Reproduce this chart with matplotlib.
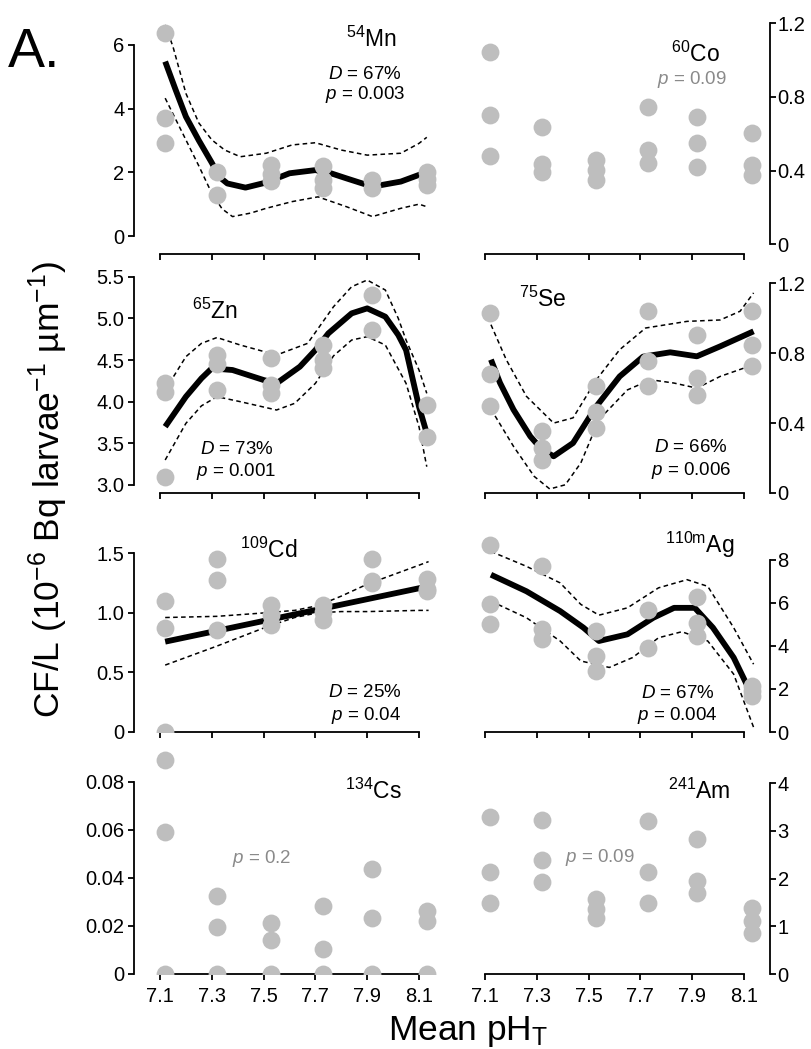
import matplotlib
matplotlib.use("Agg")
import matplotlib.pyplot as plt

plt.rcParams['font.family'] = ['Liberation Sans', 'DejaVu Sans']
plt.rcParams['mathtext.fontset'] = 'custom'
plt.rcParams['mathtext.rm'] = 'Liberation Sans'
plt.rcParams['mathtext.it'] = 'Liberation Sans:italic'
plt.rcParams['mathtext.bf'] = 'Liberation Sans:bold'

# ---------------- data ----------------
ph_groups = [7.12, 7.32, 7.53, 7.73, 7.92, 8.13]
x_ticks = [7.1, 7.3, 7.5, 7.7, 7.9, 8.1]
x_tick_labels = ['7.1', '7.3', '7.5', '7.7', '7.9', '8.1']

# 54Mn
mn_pts = [[6.37, 3.70, 2.91], [2.02, 1.29], [2.22, 1.95, 1.72],
          [2.20, 1.75, 1.50], [1.75, 1.50], [2.00, 1.80, 1.60]]
mn_fit_ph = [7.12, 7.16, 7.20, 7.25, 7.30, 7.33, 7.36, 7.43, 7.51, 7.60, 7.70, 7.76, 7.82, 7.92, 8.03, 8.10, 8.13]
mn_fit = [5.48, 4.60, 3.75, 3.00, 2.30, 1.85, 1.65, 1.52, 1.68, 1.97, 2.07, 1.97, 1.81, 1.55, 1.71, 1.92, 2.00]
mn_hi_ph = [7.12, 7.15, 7.20, 7.25, 7.30, 7.35, 7.41, 7.51, 7.61, 7.70, 7.80, 7.90, 8.03, 8.10, 8.13]
mn_hi = [6.63, 5.95, 4.48, 3.55, 3.02, 2.70, 2.49, 2.60, 2.86, 2.93, 2.70, 2.54, 2.60, 2.91, 3.10]
mn_lo_ph = [7.12, 7.20, 7.25, 7.30, 7.34, 7.38, 7.45, 7.51, 7.61, 7.71, 7.82, 7.92, 8.03, 8.10, 8.13]
mn_lo = [4.33, 3.02, 2.20, 1.34, 0.85, 0.61, 0.72, 0.87, 1.08, 1.23, 0.92, 0.61, 0.87, 1.00, 0.92]

# 60Co
co_pts = [[1.046, 0.702, 0.479], [0.638, 0.436, 0.394], [0.458, 0.403, 0.349],
          [0.743, 0.512, 0.440], [0.689, 0.552, 0.418], [0.603, 0.430, 0.376]]

# 65Zn
zn_pts = [[4.23, 4.12, 3.10], [4.56, 4.45, 4.14], [4.52, 4.20, 4.10],
          [4.68, 4.50, 4.40], [5.28, 4.86], [3.96, 3.58]]
zn_fit_ph = [7.12, 7.20, 7.26, 7.30, 7.38, 7.50, 7.55, 7.64, 7.70, 7.75, 7.84, 7.90, 7.97, 8.02, 8.05, 8.10, 8.13]
zn_fit = [3.70, 4.06, 4.28, 4.40, 4.38, 4.26, 4.22, 4.42, 4.62, 4.82, 5.06, 5.12, 5.02, 4.80, 4.62, 3.94, 3.62]
zn_hi_ph = [7.12, 7.20, 7.26, 7.32, 7.41, 7.55, 7.67, 7.77, 7.84, 7.90, 7.97, 8.02, 8.05, 8.10, 8.13]
zn_hi = [4.14, 4.54, 4.70, 4.77, 4.68, 4.56, 4.70, 5.14, 5.38, 5.46, 5.34, 5.00, 4.74, 4.38, 4.10]
zn_lo_ph = [7.12, 7.20, 7.26, 7.32, 7.41, 7.55, 7.62, 7.70, 7.77, 7.84, 7.90, 7.97, 8.05, 8.10, 8.13]
zn_lo = [3.30, 3.74, 3.95, 4.06, 4.00, 3.90, 3.98, 4.22, 4.55, 4.74, 4.78, 4.68, 4.22, 3.70, 3.22]

# 75Se
se_pts = [[1.03, 0.683, 0.50], [0.353, 0.258, 0.19], [0.61, 0.461, 0.372],
          [1.04, 0.753, 0.614], [0.906, 0.658, 0.563], [1.04, 0.849, 0.725]]
se_fit_ph = [7.123, 7.158, 7.21, 7.275, 7.32, 7.365, 7.44, 7.53, 7.62, 7.71, 7.815, 7.918, 8.008, 8.137]
se_fit = [0.763, 0.63, 0.477, 0.324, 0.248, 0.21, 0.286, 0.496, 0.667, 0.78, 0.805, 0.782, 0.839, 0.925]
se_hi_ph = [7.123, 7.182, 7.26, 7.365, 7.44, 7.53, 7.62, 7.72, 7.88, 8.008, 8.085, 8.137]
se_hi = [0.963, 0.763, 0.553, 0.40, 0.43, 0.648, 0.82, 0.944, 0.982, 0.99, 1.04, 1.145]
se_lo_ph = [7.123, 7.21, 7.29, 7.35, 7.41, 7.47, 7.54, 7.65, 7.74, 7.83, 7.918, 8.008, 8.137]
se_lo = [0.48, 0.267, 0.095, 0.023, 0.047, 0.172, 0.42, 0.59, 0.648, 0.629, 0.60, 0.667, 0.734]

# 109Cd
cd_pts = [[1.10, 0.875, 0.0], [1.45, 1.276, 0.855], [1.065, 0.98, 0.90],
          [1.065, 1.01, 0.94], [1.45, 1.27, 1.25], [1.28, 1.20, 1.18]]
cd_fit_ph = [7.12, 8.137]
cd_fit = [0.757, 1.223]
cd_hi_ph = [7.12, 7.32, 7.51, 7.62, 7.71, 7.80, 7.90, 8.00, 8.10, 8.137]
cd_hi = [0.96, 0.97, 1.00, 1.02, 1.06, 1.14, 1.24, 1.32, 1.40, 1.43]
cd_lo_ph = [7.12, 7.32, 7.51, 7.62, 7.71, 7.80, 7.90, 8.10, 8.137]
cd_lo = [0.56, 0.72, 0.88, 0.96, 1.00, 1.01, 1.01, 1.02, 1.02]

# 110mAg
ag_pts = [[8.70, 5.93, 5.00], [7.70, 4.77, 4.31], [4.69, 3.53, 2.84],
          [5.69, 3.92], [6.26, 5.08, 4.46], [2.14, 1.90, 1.68]]
ag_fit_ph = [7.123, 7.26, 7.39, 7.48, 7.54, 7.65, 7.75, 7.83, 7.91, 7.98, 8.06, 8.11]
ag_fit = [7.31, 6.54, 5.62, 4.85, 4.23, 4.54, 5.31, 5.77, 5.77, 4.85, 3.46, 2.22]
ag_hi_ph = [7.123, 7.26, 7.39, 7.47, 7.54, 7.65, 7.77, 7.88, 7.96, 8.06, 8.137]
ag_hi = [8.39, 7.70, 6.93, 5.93, 5.43, 5.77, 6.70, 7.08, 6.77, 4.85, 3.15]
ag_lo_ph = [7.123, 7.26, 7.39, 7.47, 7.58, 7.67, 7.77, 7.86, 7.96, 8.06, 8.137]
ag_lo = [6.08, 5.31, 4.23, 3.30, 3.00, 3.46, 4.38, 4.66, 4.23, 2.69, 0.22]

# 134Cs
cs_pts = [[0.0891, 0.0591, 0.0], [0.0323, 0.0195, 0.0], [0.0211, 0.0139, 0.0],
          [0.0282, 0.0104, 0.0], [0.0438, 0.0234, 0.0], [0.026, 0.022, 0.0]]

# 241Am
am_pts = [[3.30, 2.14, 1.48], [3.22, 2.39, 1.93], [1.57, 1.36, 1.18],
          [3.20, 2.14, 1.48], [2.83, 1.95, 1.69], [1.39, 1.11, 0.87]]

# ---------------- layout ----------------
W, H = 811, 1049
fig = plt.figure(figsize=(W / 100, H / 100), dpi=100)

col_x = [(134.1, 444.9), (459.1, 769.9)]
row_bottom = [254, 493, 732, 974]
row_top = [8, 258, 497, 737]

GREY = '#bebebe'
PGREY = '#8a8a8a'

panels = [
    dict(col=0, row=0, pts=mn_pts, ticks=[0, 2, 4, 6], tl=['0', '2', '4', '6'],
         anchor=((0, 236), (6, 45)),
         curves=[(mn_fit_ph, mn_fit), (mn_hi_ph, mn_hi), (mn_lo_ph, mn_lo)],
         label=r'$^{54}$Mn', lab_xy=(397, 47),
         stats=[(r'$D$ = 67%', 365, 79, 'k'), (r'$p$ = 0.003', 365, 99, 'k')]),
    dict(col=1, row=0, pts=co_pts, ticks=[0, 0.4, 0.8, 1.2], tl=['0', '0.4', '0.8', '1.2'],
         anchor=((0, 244.3), (1.2, 23.3)), curves=None,
         label=r'$^{60}$Co', lab_xy=(720, 62),
         stats=[(r'$p$ = 0.09', 692, 84, PGREY)]),
    dict(col=0, row=1, pts=zn_pts, ticks=[3.0, 3.5, 4.0, 4.5, 5.0, 5.5],
         tl=['3.0', '3.5', '4.0', '4.5', '5.0', '5.5'],
         anchor=((3.0, 485), (5.5, 276.7)),
         curves=[(zn_fit_ph, zn_fit), (zn_hi_ph, zn_hi), (zn_lo_ph, zn_lo)],
         label=r'$^{65}$Zn', lab_xy=(238, 319),
         stats=[(r'$D$ = 73%', 237, 454, 'k'), (r'$p$ = 0.001', 236, 476, 'k')]),
    dict(col=1, row=1, pts=se_pts, ticks=[0, 0.4, 0.8, 1.2], tl=['0', '0.4', '0.8', '1.2'],
         anchor=((0, 493.3), (1.2, 283.3)),
         curves=[(se_fit_ph, se_fit), (se_hi_ph, se_hi), (se_lo_ph, se_lo)],
         label=r'$^{75}$Se', lab_xy=(567, 307),
         stats=[(r'$D$ = 66%', 691, 452, 'k'), (r'$p$ = 0.006', 691, 475, 'k')]),
    dict(col=0, row=2, pts=cd_pts, ticks=[0, 0.5, 1.0, 1.5], tl=['0', '0.5', '1.0', '1.5'],
         anchor=((0, 731.7), (1.5, 553.3)),
         curves=[(cd_fit_ph, cd_fit), (cd_hi_ph, cd_hi), (cd_lo_ph, cd_lo)],
         label=r'$^{109}$Cd', lab_xy=(297, 558),
         stats=[(r'$D$ = 25%', 365, 697, 'k'), (r'$p$ = 0.04', 366, 720, 'k')]),
    dict(col=1, row=2, pts=ag_pts, ticks=[0, 2, 4, 6, 8], tl=['0', '2', '4', '6', '8'],
         anchor=((0, 732.5), (8, 560)),
         curves=[(ag_fit_ph, ag_fit), (ag_hi_ph, ag_hi), (ag_lo_ph, ag_lo)],
         label=r'$^{110\mathrm{m}}$Ag', lab_xy=(735, 553),
         stats=[(r'$D$ = 67%', 678, 698, 'k'), (r'$p$ = 0.004', 677, 720, 'k')]),
    dict(col=0, row=3, pts=cs_pts, ticks=[0, 0.02, 0.04, 0.06, 0.08],
         tl=['0', '0.02', '0.04', '0.06', '0.08'],
         anchor=((0, 973.8), (0.08, 781.7)), curves=None,
         label=r'$^{134}$Cs', lab_xy=(402, 799),
         stats=[(r'$p$ = 0.2', 262, 863, PGREY)]),
    dict(col=1, row=3, pts=am_pts, ticks=[0, 1, 2, 3, 4], tl=['0', '1', '2', '3', '4'],
         anchor=((0, 974), (4, 783.3)), curves=None,
         label=r'$^{241}$Am', lab_xy=(730, 799),
         stats=[(r'$p$ = 0.09', 600, 862, PGREY)]),
]

for p in panels:
    x0, x1 = col_x[p['col']]
    top, bot = row_top[p['row']], row_bottom[p['row']]
    ax = fig.add_axes([x0 / W, 1 - bot / H, (x1 - x0) / W, (bot - top) / H])
    (v0, p0), (v1, p1) = p['anchor']
    k = (v1 - v0) / (p0 - p1)
    ax.set_ylim(v0 - (bot - p0) * k, v0 + (p0 - top) * k)
    ax.set_xlim(7.0, 8.2)
    ax.patch.set_alpha(0)

    if p['curves']:
        (fx, fy), (hx, hy), (lx, ly) = p['curves']
        ax.plot(hx, hy, color='black', lw=1.1, ls=(0, (3, 2.2)), zorder=2)
        ax.plot(lx, ly, color='black', lw=1.1, ls=(0, (3, 2.2)), zorder=2)
        ax.plot(fx, fy, color='black', lw=4.2, solid_capstyle='butt',
                solid_joinstyle='round', zorder=2.5)

    xs, ys = [], []
    for g, vals in zip(ph_groups, p['pts']):
        for v in vals:
            xs.append(g)
            ys.append(v)
    ax.scatter(xs, ys, s=165, color=GREY, linewidths=0, zorder=3)

    ax.spines['top'].set_visible(False)
    ax.spines['bottom'].set_bounds(7.1, 8.1)
    ax.spines['bottom'].set_linewidth(1.3)
    if p['col'] == 0:
        ax.spines['right'].set_visible(False)
        ax.spines['left'].set_bounds(p['ticks'][0], p['ticks'][-1])
        ax.spines['left'].set_linewidth(1.3)
        ax.yaxis.tick_left()
        ax.tick_params(axis='y', direction='out', length=4, width=1.3, labelsize=14.5, pad=3)
    else:
        ax.spines['left'].set_visible(False)
        ax.spines['right'].set_bounds(p['ticks'][0], p['ticks'][-1])
        ax.spines['right'].set_linewidth(1.3)
        ax.yaxis.tick_right()
        ax.tick_params(axis='y', direction='out', length=4, width=1.3, labelsize=14.5, pad=1.5)
    ax.set_yticks(p['ticks'])
    ax.set_yticklabels(p['tl'])
    ax.set_xticks(x_ticks)
    ax.tick_params(axis='x', direction='out', length=4, width=1.3, labelsize=14.5, pad=5)
    if p['row'] == 3:
        ax.set_xticklabels(x_tick_labels)
    else:
        ax.tick_params(axis='x', labelbottom=False)

    lx_, ly_ = p['lab_xy']
    fig.text(lx_ / W, 1 - ly_ / H, p['label'], ha='right', va='baseline', fontsize=16.5)
    for txt, tx, ty, c in p['stats']:
        fig.text(tx / W, 1 - ty / H, txt, ha='center', va='baseline', fontsize=13.5, color=c)

fig.text(8 / W, 1 - 67 / H, 'A.', ha='left', va='baseline', fontsize=40)
fig.text(48 / W, 1 - 490 / H, r'CF/L (10$^{-6}$ Bq larvae$^{-1}$ µm$^{-1}$)',
         rotation=90, ha='center', va='center', fontsize=25.5)
fig.text(468 / W, 1 - 1040 / H, r'Mean pH$_{\mathrm{T}}$', ha='center', va='baseline', fontsize=25.5)

fig.savefig('out.png', dpi=100)
